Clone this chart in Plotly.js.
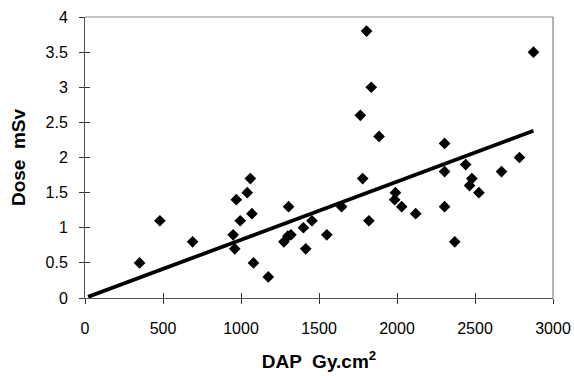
<!DOCTYPE html>
<html>
<head>
<meta charset="utf-8">
<script src="https://cdn.plot.ly/plotly-3.0.1.min.js"></script>
<style>html,body{margin:0;padding:0;background:#fff}#chart{width:574px;height:376px}</style>
</head>
<body>
<div id="chart"></div>
<script>
// DAP (Gy.cm2) vs effective dose (mSv)
const dap = [350, 480, 690, 950, 960, 970, 995, 1040, 1060, 1070, 1080, 1175, 1275, 1305, 1300, 1320, 1400, 1415, 1455, 1550, 1645, 1765, 1780, 1805, 1820, 1835, 1885, 1985, 1990, 2030, 2120, 2305, 2305, 2305, 2370, 2440, 2465, 2480, 2525, 2670, 2785, 2875];
const dose = [0.5, 1.1, 0.8, 0.9, 0.7, 1.4, 1.1, 1.5, 1.7, 1.2, 0.5, 0.3, 0.8, 1.3, 0.88, 0.9, 1.0, 0.7, 1.1, 0.9, 1.3, 2.6, 1.7, 3.8, 1.1, 3.0, 2.3, 1.4, 1.5, 1.3, 1.2, 2.2, 1.8, 1.3, 0.8, 1.9, 1.6, 1.7, 1.5, 1.8, 2.0, 3.5];
// fitted line through origin (end points)
const fitX = [20, 2875];
const fitY = [0.017, 2.38];

const xTicks = [0, 500, 1000, 1500, 2000, 2500, 3000];
const yTicks = [0, 0.5, 1, 1.5, 2, 2.5, 3, 3.5, 4];
const yTickText = ['0', '0.5', '1', '1.5', '2', '2.5', '3', '3.5', '4'];

const font = 'Arial, "Liberation Sans", sans-serif';

const traces = [
  {x: fitX, y: fitY, mode: 'lines', line: {color: '#000', width: 3.8}, hoverinfo: 'skip', showlegend: false},
  {x: dap, y: dose, mode: 'markers', marker: {symbol: 'diamond', size: 9, color: '#000'}, showlegend: false},
  {x: [], y: [], xaxis: 'x2', yaxis: 'y2', showlegend: false}
];

const layout = {
  width: 574, height: 376,
  margin: {l: 85, r: 21, t: 17, b: 78, pad: 0},
  paper_bgcolor: '#fff', plot_bgcolor: '#fff',
  font: {family: font, color: '#000', size: 16},
  showlegend: false,
  xaxis: {
    range: [0, 3000], tickvals: xTicks, ticktext: xTicks.map(String),
    showgrid: false, zeroline: false,
    showline: true, linecolor: '#555', linewidth: 1, mirror: false,
    ticks: 'outside', ticklen: 5, tickcolor: '#333', tickwidth: 1,
    ticklabelstandoff: 11,
    tickfont: {family: font, size: 16, color: '#000'},
    title: {text: '<b>DAP  Gy.cm<sup>2</sup></b>', font: {family: font, size: 19, color: '#000'}, standoff: 18}
  },
  yaxis: {
    range: [0, 4], tickvals: yTicks, ticktext: yTickText,
    showgrid: false, zeroline: false,
    showline: true, linecolor: '#555', linewidth: 1, mirror: false,
    ticks: 'outside', ticklen: 5, tickcolor: '#333', tickwidth: 1,
    ticklabelstandoff: 8,
    tickfont: {family: font, size: 16, color: '#000'},
    title: {text: '<b>Dose  mSv</b>', font: {family: font, size: 19, color: '#000'}, standoff: 14}
  },
  xaxis2: {
    overlaying: 'x', matches: 'x', range: [0, 3000], tickvals: xTicks,
    showticklabels: false, showgrid: false, zeroline: false, showline: false,
    ticks: 'inside', ticklen: 5, tickcolor: '#333', tickwidth: 1, anchor: 'y2'
  },
  yaxis2: {
    overlaying: 'y', matches: 'y', range: [0, 4], tickvals: yTicks,
    showticklabels: false, showgrid: false, zeroline: false, showline: false,
    ticks: 'inside', ticklen: 5, tickcolor: '#333', tickwidth: 1, anchor: 'x2'
  },
  shapes: [
    {type: 'line', xref: 'paper', yref: 'paper', x0: 0, x1: 1, y0: 1, y1: 1, line: {color: '#888', width: 1}},
    {type: 'line', xref: 'paper', yref: 'paper', x0: 1, x1: 1, y0: 0, y1: 1, line: {color: '#666', width: 1}}
  ]
};

Plotly.newPlot('chart', traces, layout, {staticPlot: true, displayModeBar: false});
</script>
</body>
</html>
